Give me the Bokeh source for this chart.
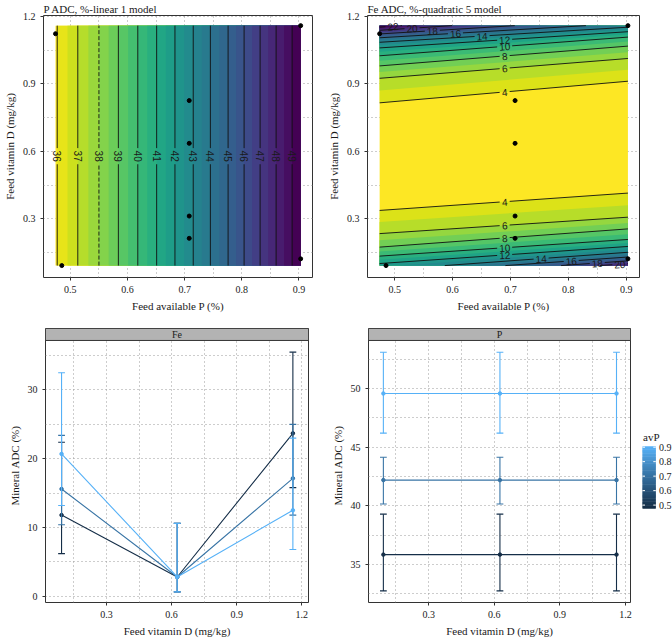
import math
import numpy as np
from bokeh.plotting import figure
from bokeh.models import Range1d, FixedTicker
from bokeh.layouts import row, column
from bokeh.palettes import Viridis256
from bokeh.core.properties import value
from bokeh.embed import file_html
from bokeh.resources import INLINE

SERIF = "Liberation Serif"
SANS = "Liberation Sans"

# ---------------- data ----------------
# design points (feed available P %, feed vitamin D mg/kg)
pts_avP = [0.474, 0.485, 0.708, 0.708, 0.708, 0.708, 0.903, 0.903]
pts_vitD = [1.123, 0.093, 0.826, 0.636, 0.313, 0.214, 1.159, 0.123]

# P ADC linear model: contour levels and their avP positions
p_levels = [36, 37, 38, 39, 40, 41, 42, 43, 44, 45, 46, 47, 48, 49]
p_level_avP = [0.477, 0.513, 0.550, 0.584, 0.618, 0.651, 0.683, 0.715,
               0.745, 0.776, 0.804, 0.832, 0.860, 0.888]
p_dashed_level = 38
p_label_vitD = 0.579

# Fe ADC quadratic model: contour lines (vitD at left / right edge)
fe_up_levels = [4, 6, 8, 10, 12, 14, 16, 18, 20, 22]
fe_up_vitD_left = [0.816, 0.925, 0.980, 1.025, 1.060, 1.085, 1.105, 1.122, 1.138, 1.152]
fe_up_vitD_right = [0.912, 1.013, 1.068, 1.108, 1.132, 1.152, 1.170, 1.190, 1.210, 1.230]
fe_up_label_avP = [0.69, 0.69, 0.69, 0.69, 0.69, 0.651, 0.605, 0.565, 0.530, 0.497]
fe_lo_levels = [4, 6, 8, 10, 12, 14, 16, 18, 20]
fe_lo_vitD_left = [0.338, 0.235, 0.175, 0.135, 0.102, 0.072, 0.054, 0.036, 0.022]
fe_lo_vitD_right = [0.415, 0.308, 0.256, 0.209, 0.178, 0.152, 0.131, 0.114, 0.102]
fe_lo_label_avP = [0.69, 0.69, 0.69, 0.69, 0.69, 0.753, 0.805, 0.850, 0.889]

# Mineral ADC means and intervals by vitamin D level, for three avP groups
vitD_levels = [0.093, 0.626, 1.159]
avP_groups = [0.485, 0.708, 0.903]
fe_mean = [[11.8, 2.8, 23.7], [15.6, 2.8, 17.15], [20.7, 2.8, 12.5]]
fe_lower = [[6.2, 0.64, 15.8], [10.4, 0.64, 11.8], [13.2, 0.64, 6.8]]
fe_upper = [[22.4, 10.6, 35.5], [23.4, 10.6, 25.0], [32.5, 10.6, 23.0]]
p_mean = [[35.85, 35.85, 35.85], [42.2, 42.2, 42.2], [49.58, 49.58, 49.58]]
p_lower = [[32.76, 32.76, 32.76], [40.17, 40.17, 40.17], [46.2, 46.2, 46.2]]
p_upper = [[39.3, 39.3, 39.3], [44.15, 44.15, 44.15], [53.1, 53.1, 53.1]]

avP_scale = [0.474, 0.903]
avP_ticks = [0.5, 0.6, 0.7, 0.8, 0.9]

# ---------------- helpers ----------------
def viridis_rank(rank, nmax):
    t = min(max(rank / nmax, 0.0), 1.0)
    return Viridis256[int(round((1 - t) * 255))]


def blue_scale(v):
    lo, hi = avP_scale
    t = min(max((v - lo) / (hi - lo), 0.0), 1.0)
    c0 = (0x13, 0x2B, 0x43)
    c1 = (0x56, 0xB1, 0xF7)
    return "#%02x%02x%02x" % tuple(int(round(a + (b - a) * t)) for a, b in zip(c0, c1))


def clip_poly(poly, yb, keep_above):
    out = []
    n = len(poly)
    for i in range(n):
        P = poly[i]
        Q = poly[(i + 1) % n]
        inP = P[1] >= yb if keep_above else P[1] <= yb
        inQ = Q[1] >= yb if keep_above else Q[1] <= yb
        if inP:
            out.append(P)
        if inP != inQ:
            t = (yb - P[1]) / (Q[1] - P[1])
            out.append((P[0] + t * (Q[0] - P[0]), yb))
    return out


def seg_inside(xa, xb, x0, x1, yl, yr, ybot, ytop):
    s = (yr - yl) / (x1 - x0)
    lo, hi = xa, xb
    if s != 0:
        xa_ = x0 + (ybot - yl) / s
        xb_ = x0 + (ytop - yl) / s
        a, b = sorted([xa_, xb_])
        lo, hi = max(lo, a), min(hi, b)
    return (lo, hi) if hi > lo else None


def style(p, xt, xm, yt, ym, xlabel, ylabel):
    p.outline_line_color = "#333333"
    p.outline_line_width = 1
    p.background_fill_color = "white"
    p.border_fill_color = "white"
    p.xaxis.axis_label = xlabel
    p.yaxis.axis_label = ylabel
    for ax in (p.xaxis[0], p.yaxis[0]):
        ax.axis_line_color = None
        ax.major_tick_line_color = "#333333"
        ax.major_tick_out = 3
        ax.major_tick_in = 0
        ax.minor_tick_line_color = None
        ax.major_label_text_font = SERIF
        ax.major_label_text_font_size = "10px"
        ax.major_label_text_color = "#1a1a1a"
        ax.major_label_standoff = 4
        ax.axis_label_text_font = SERIF
        ax.axis_label_text_font_size = "11px"
        ax.axis_label_text_font_style = "normal"
        ax.axis_label_text_color = "#1a1a1a"
        ax.axis_label_standoff = 4
    xtk = FixedTicker(ticks=xt, minor_ticks=xm)
    ytk = FixedTicker(ticks=yt, minor_ticks=ym)
    p.xaxis.ticker = xtk
    p.yaxis.ticker = ytk
    p.xgrid.ticker = xtk
    p.ygrid.ticker = ytk
    for g in (p.xgrid[0], p.ygrid[0]):
        g.grid_line_color = "#9a9a9a"
        g.grid_line_dash = "1 3"
        g.minor_grid_line_color = "#9a9a9a"
        g.minor_grid_line_dash = "1 3"


def set_title(p, text):
    p.title.text = text
    p.title.align = "left"
    p.title.text_font = SERIF
    p.title.text_font_size = "11px"
    p.title.text_font_style = "normal"
    p.title.text_color = "#1a1a1a"
    p.title.offset = 0
    p.title.standoff = 1


x0, x1 = min(pts_avP), max(pts_avP)
y0, y1 = min(pts_vitD), max(pts_vitD)

# ---------------- top-left: P ADC ----------------
p1 = figure(width=320, height=320, x_range=Range1d(0.453, 0.9237), y_range=Range1d(0.04, 1.204),
            min_border_left=40, min_border_right=8, min_border_top=14, min_border_bottom=43,
            toolbar_location=None, output_backend="svg")
style(p1, [0.5, 0.6, 0.7, 0.8, 0.9], [0.55, 0.65, 0.75, 0.85],
      [0.3, 0.6, 0.9, 1.2], [0.15, 0.45, 0.75, 1.05],
      "Feed available P (%)", "Feed vitamin D (mg/kg)")
set_title(p1, "P ADC, %-linear 1 model")

# layered fill: each layer covers from its boundary to the right edge
lefts, ranks = [x0], [0]
nlev = len(p_level_avP)
for i, xl in enumerate(p_level_avP):
    lefts.append(xl)
    ranks.append(1 + 2 * i)
    if i + 1 < nlev:
        lefts.append((xl + p_level_avP[i + 1]) / 2)
        ranks.append(2 + 2 * i)
rmax = max(ranks)
p1.quad(left=lefts, right=[x1] * len(lefts), bottom=[y0] * len(lefts), top=[y1] * len(lefts),
        fill_color=[viridis_rank(r, rmax) for r in ranks], line_color=None)

fh1 = 320 - 14 - 43
py1 = fh1 / (1.204 - 0.04)
xs, ys = [], []
for L, xl in zip(p_levels, p_level_avP):
    gap = (len(str(L)) * 5.6 / 2 + 2.5) / py1
    if L == p_dashed_level:
        continue
    xs += [[xl, xl], [xl, xl]]
    ys += [[y0, p_label_vitD - gap], [p_label_vitD + gap, y1]]
p1.multi_line(xs, ys, line_color="#111111", line_width=0.9)
xd = p_level_avP[p_levels.index(p_dashed_level)]
gapd = (2 * 5.6 / 2 + 2.5) / py1
p1.multi_line([[xd, xd], [xd, xd]], [[y0, p_label_vitD - gapd], [p_label_vitD + gapd, y1]],
              line_color="#111111", line_width=0.9, line_dash="4 2")
p1.text(x=p_level_avP, y=[p_label_vitD] * len(p_levels), text=[str(L) for L in p_levels],
        angle=-math.pi / 2, text_font=value(SANS), text_font_size="10px", text_color="#1a1a1a",
        text_align="center", text_baseline="middle")
p1.scatter(pts_avP, pts_vitD, size=4, color="black")

# ---------------- top-right: Fe ADC ----------------
p2 = figure(width=352, height=320, x_range=Range1d(0.453, 0.923), y_range=Range1d(0.04, 1.204),
            min_border_left=47, min_border_right=33, min_border_top=14, min_border_bottom=43,
            toolbar_location=None, output_backend="svg")
style(p2, [0.5, 0.6, 0.7, 0.8, 0.9], [0.55, 0.65, 0.75, 0.85],
      [0.3, 0.6, 0.9, 1.2], [0.15, 0.45, 0.75, 1.05],
      "Feed available P (%)", "Feed vitamin D (mg/kg)")
set_title(p2, "Fe ADC, %-quadratic 5 model")

BIG = 10.0
base_level = fe_up_levels[0] - 1
layers = []  # (rank, left y, right y, side)
for levels, ls, rs, side in ((fe_up_levels, fe_up_vitD_left, fe_up_vitD_right, "up"),
                             (fe_lo_levels, fe_lo_vitD_left, fe_lo_vitD_right, "lo")):
    for i, L in enumerate(levels):
        layers.append((L - base_level, ls[i], rs[i], side))
        if i + 1 < len(levels):
            layers.append((L + 1 - base_level, (ls[i] + ls[i + 1]) / 2, (rs[i] + rs[i + 1]) / 2, side))
rmax2 = max(l[0] for l in layers)
pxs, pys, pcols = [[x0, x1, x1, x0]], [[y0, y0, y1, y1]], [viridis_rank(0, rmax2)]
for rk, yl, yr, side in layers:
    if side == "up":
        poly = clip_poly([(x0, yl), (x1, yr), (x1, BIG), (x0, BIG)], y1, keep_above=False)
    else:
        poly = clip_poly([(x0, yl), (x1, yr), (x1, -BIG), (x0, -BIG)], y0, keep_above=True)
    if len(poly) >= 3:
        pxs.append([q[0] for q in poly]); pys.append([q[1] for q in poly])
        pcols.append(viridis_rank(rk, rmax2))
p2.patches(pxs, pys, fill_color=pcols, line_color=None)

fw2 = 352 - 47 - 33
px2 = fw2 / (0.923 - 0.453)
py2 = fh1 / (1.204 - 0.04)
lxs, lys, tx, ty, tt, ta = [], [], [], [], [], []
for levels, lefts_, rights_, labx in ((fe_up_levels, fe_up_vitD_left, fe_up_vitD_right, fe_up_label_avP),
                                      (fe_lo_levels, fe_lo_vitD_left, fe_lo_vitD_right, fe_lo_label_avP)):
    for L, yl, yr, lx in zip(levels, lefts_, rights_, labx):
        s = (yr - yl) / (x1 - x0)
        gap = (len(str(L)) * 5.0 / 2 + 2.5) / px2
        for a, b in ((x0, lx - gap), (lx + gap, x1)):
            seg = seg_inside(a, b, x0, x1, yl, yr, y0, y1)
            if seg:
                lxs.append([seg[0], seg[1]])
                lys.append([yl + s * (seg[0] - x0), yl + s * (seg[1] - x0)])
        tx.append(lx)
        ty.append(yl + s * (lx - x0))
        tt.append(str(L))
        ta.append(math.atan(s * py2 / px2))
p2.multi_line(lxs, lys, line_color="#111111", line_width=0.9)
p2.text(x=tx, y=ty, text=tt, angle=ta, text_font=value(SANS), text_font_size="10px",
        text_color="#1a1a1a", text_align="center", text_baseline="middle")
p2.scatter(pts_avP, pts_vitD, size=4, color="black")


# ---------------- bottom panels ----------------
def facet(width, mbl, mbr, xr, yr, yt, ym, strip_text, means, lowers, uppers, ylabel):
    h = 319
    p = figure(width=width, height=h, x_range=Range1d(*xr), y_range=Range1d(*yr),
               min_border_left=mbl, min_border_right=mbr, min_border_top=8, min_border_bottom=36,
               toolbar_location=None, output_backend="svg")
    style(p, [0.3, 0.6, 0.9, 1.2], [0.15, 0.45, 0.75, 1.05], yt, ym,
          "Feed vitamin D (mg/kg)", ylabel)
    fh = h - 8 - 36
    strip_bottom = yr[1] - 12 * (yr[1] - yr[0]) / fh
    fw = width - mbl - mbr
    cap = 3.4 * (xr[1] - xr[0]) / fw
    for g, m, lo, up in zip(avP_groups, means, lowers, uppers):
        c = blue_scale(g)
        p.segment(x0=vitD_levels, y0=lo, x1=vitD_levels, y1=up, line_color=c, line_width=1.1)
        p.segment(x0=[v - cap for v in vitD_levels], y0=up, x1=[v + cap for v in vitD_levels], y1=up,
                  line_color=c, line_width=1.1)
        p.segment(x0=[v - cap for v in vitD_levels], y0=lo, x1=[v + cap for v in vitD_levels], y1=lo,
                  line_color=c, line_width=1.1)
        p.line(vitD_levels, m, line_color=c, line_width=1.1)
        p.scatter(vitD_levels, m, size=3.5, color=c)
    p.quad(left=[xr[0]], right=[xr[1]], bottom=[strip_bottom], top=[yr[1]],
           fill_color="#b3b3b3", line_color="#333333", line_width=1)
    p.text(x=[(xr[0] + xr[1]) / 2], y=[(strip_bottom + yr[1]) / 2], text=[strip_text],
           text_font=value(SERIF), text_font_size="10px", text_color="#1a1a1a",
           text_align="center", text_baseline="middle")
    return p


p3 = facet(320, 45, 12, (0.019, 1.231), (-0.91, 38.94), [0, 10, 20, 30], [5, 15, 25, 35], "Fe",
           fe_mean, fe_lower, fe_upper, "Mineral ADC (%)")
p4 = facet(318, 48, 8, (0.025, 1.223), (31.77, 55.12), [35, 40, 45, 50],
           [32.5, 37.5, 42.5, 47.5, 52.5], "P", p_mean, p_lower, p_upper, "Mineral ADC (%)")

# ---------------- colour legend (coordinates = page y minus row top) ----------------
leg = figure(width=34, height=319, x_range=Range1d(0, 34), y_range=Range1d(283, 8),
             min_border_left=0, min_border_right=0, min_border_top=8, min_border_bottom=36,
             x_axis_type=None, y_axis_type=None, title=None,
             toolbar_location=None, output_backend="svg")
leg.grid.visible = False
leg.outline_line_color = None
leg.background_fill_color = "white"
leg.border_fill_color = "white"
bar_top, bar_bot = 126.7, 189.0
n = 80
lo, hi = avP_scale
gv = np.linspace(lo, hi, n + 1)
gy = [bar_bot - (v - lo) / (hi - lo) * (bar_bot - bar_top) for v in gv]
leg.quad(left=[4] * n, right=[17.3] * n, bottom=gy[:-1], top=[yy - 0.6 for yy in gy[1:]],
         fill_color=[blue_scale((gv[i] + gv[i + 1]) / 2) for i in range(n)], line_color=None)
ty_leg = [bar_bot - (v - lo) / (hi - lo) * (bar_bot - bar_top) for v in avP_ticks]
leg.segment(x0=[4] * 5, y0=ty_leg, x1=[6.5] * 5, y1=ty_leg, line_color="white", line_width=1)
leg.segment(x0=[14.8] * 5, y0=ty_leg, x1=[17.3] * 5, y1=ty_leg, line_color="white", line_width=1)
leg.text(x=[20.5] * 5, y=ty_leg, text=["%.1f" % v for v in avP_ticks], text_font=value(SERIF),
         text_font_size="10px", text_color="#1a1a1a", text_align="left", text_baseline="middle")
leg.text(x=[4.5], y=[116.7], text=["avP"], text_font=value(SERIF), text_font_size="11px",
         text_color="#1a1a1a", text_align="left", text_baseline="middle")

layout = column(row(p1, p2), row(p3, p4, leg))
open("out.html", "w").write(file_html(layout, INLINE))
